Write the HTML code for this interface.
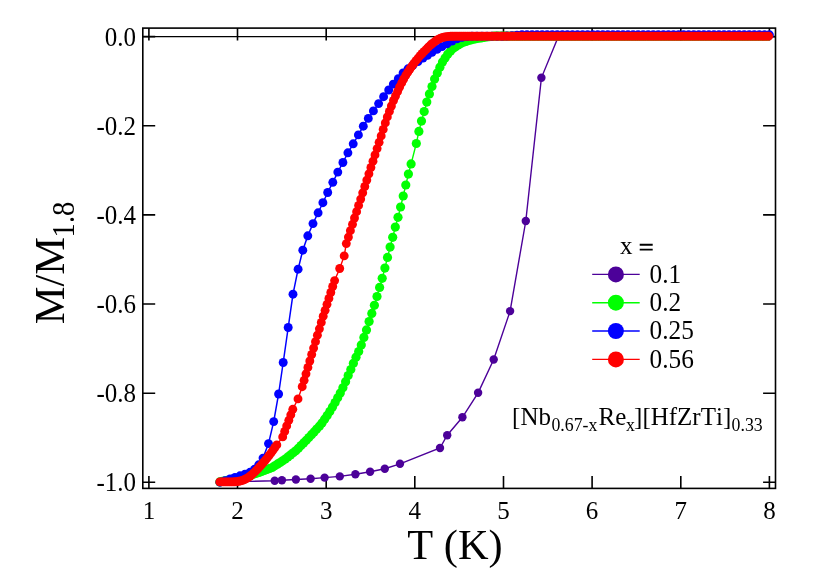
<!DOCTYPE html>
<html><head><meta charset="utf-8"><style>
html,body{margin:0;padding:0;background:#fff;}
svg{display:block;opacity:0.999;will-change:transform;}
text{font-family:"Liberation Serif",serif;font-size:25px;fill:#000;font-kerning:none;}
.big{font-size:42.4px;}
.bsub{font-size:29px;}
.sub{font-size:17.5px;}
</style></head><body>
<svg width="830" height="578" viewBox="0 0 830 578">
<rect width="830" height="578" fill="#fff"/>
<line x1="142.8" y1="36.6" x2="775.5" y2="36.6" stroke="#000" stroke-width="1.4"/>
<path d="M148.9 488.4V476.0M148.9 28.1V40.5M237.5 488.4V476.0M237.5 28.1V40.5M326.2 488.4V476.0M326.2 28.1V40.5M414.8 488.4V476.0M414.8 28.1V40.5M503.5 488.4V476.0M503.5 28.1V40.5M592.1 488.4V476.0M592.1 28.1V40.5M680.8 488.4V476.0M680.8 28.1V40.5M769.4 488.4V476.0M769.4 28.1V40.5M142.8 36.6H155.2M775.5 36.6H763.1M142.8 125.7H155.2M775.5 125.7H763.1M142.8 214.9H155.2M775.5 214.9H763.1M142.8 304.0H155.2M775.5 304.0H763.1M142.8 393.2H155.2M775.5 393.2H763.1M142.8 482.3H155.2M775.5 482.3H763.1" stroke="#000" stroke-width="1.6" fill="none"/>
<g>
<polyline fill="none" stroke="#4c0099" stroke-width="1.4" points="220.0,481.9 250.0,481.4 274.7,480.7 281.9,480.2 295.9,479.5 310.6,478.8 324.6,477.6 339.8,476.4 355.4,474.2 370.1,471.8 384.8,468.7 400.0,463.8 440.0,448.0 447.2,435.2 462.4,417.3 478.1,392.8 493.7,359.5 510.1,311.1 525.8,221.0 541.4,77.8 558.5,36.2 768.8,36.2"/>
<g fill="#4c0099"><circle cx="274.7" cy="480.7" r="4.2"/><circle cx="281.9" cy="480.2" r="4.2"/><circle cx="295.9" cy="479.5" r="4.2"/><circle cx="310.6" cy="478.8" r="4.2"/><circle cx="324.6" cy="477.6" r="4.2"/><circle cx="339.8" cy="476.4" r="4.2"/><circle cx="355.4" cy="474.2" r="4.2"/><circle cx="370.1" cy="471.8" r="4.2"/><circle cx="384.8" cy="468.7" r="4.2"/><circle cx="400.0" cy="463.8" r="4.2"/><circle cx="440.0" cy="448.0" r="4.2"/><circle cx="447.2" cy="435.2" r="4.2"/><circle cx="462.4" cy="417.3" r="4.2"/><circle cx="478.1" cy="392.8" r="4.2"/><circle cx="493.7" cy="359.5" r="4.2"/><circle cx="510.1" cy="311.1" r="4.2"/><circle cx="525.8" cy="221.0" r="4.2"/><circle cx="541.4" cy="77.8" r="4.2"/><circle cx="558.5" cy="36.2" r="4.2"/></g>
<polyline fill="none" stroke="#00ff00" stroke-width="1.4" points="219.8,481.9 222.4,481.4 225.0,480.8 227.7,480.3 230.3,479.8 232.9,479.2 235.5,478.7 238.1,478.1 240.8,477.5 243.4,476.8 246.0,476.2 248.6,475.6 251.2,474.9 253.9,474.1 256.5,473.3 259.1,472.5 261.7,471.5 264.3,470.5 267.0,469.5 269.6,468.5 272.2,467.5 274.8,465.8 277.4,464.2 280.1,462.5 282.7,460.8 285.3,459.0 287.9,456.9 290.5,454.9 293.2,452.8 295.8,450.8 298.4,448.3 301.0,445.6 303.6,442.9 306.3,440.3 308.9,437.5 311.5,434.7 314.1,431.9 316.7,429.1 319.4,426.2 322.0,422.9 324.6,419.2 327.2,415.4 329.8,411.4 332.5,407.1 335.1,402.5 337.7,397.8 340.3,393.1 342.9,387.8 345.6,381.7 348.2,375.6 350.8,369.5 353.4,363.3 356.0,357.2 358.7,351.5 361.3,344.9 363.9,337.4 366.5,329.9 369.1,321.6 371.8,313.4 374.4,305.3 377.0,296.5 379.6,287.4 382.2,278.3 384.9,268.1 387.5,257.4 390.1,247.1 392.7,237.3 395.3,227.1 398.0,217.3 400.6,207.0 403.2,196.0 405.8,185.0 408.4,174.1 411.1,163.9 416.3,143.5 418.9,131.4 421.5,121.1 424.2,111.6 426.8,102.1 429.4,93.9 432.0,86.5 434.6,79.1 437.3,72.9 439.9,67.2 442.5,62.1 445.1,58.0 447.7,54.3 450.4,51.2 453.0,48.6 455.6,46.8 458.2,45.0 460.8,43.6 463.5,42.2 466.1,41.4 468.7,40.5 471.3,39.8 473.9,39.2 476.6,38.6 479.2,38.2 481.8,37.8 484.4,37.3 487.0,37.0 489.7,36.6 492.3,36.4 494.9,36.2 497.5,36.2 500.1,36.2 502.8,36.2 505.4,36.2 508.0,36.2 510.6,36.2 513.2,36.2 515.9,36.2 518.5,36.2 521.1,36.2 523.7,36.2 526.3,36.2 529.0,36.2 531.6,36.2 534.2,36.2 536.8,36.2 539.4,36.2 542.1,36.2 544.7,36.2 547.3,36.2 549.9,36.2 552.5,36.2 555.2,36.2 557.8,36.2 560.4,36.2 563.0,36.2 565.6,36.2 568.3,36.2 570.9,36.2 573.5,36.2 576.1,36.2 578.7,36.2 581.4,36.2 584.0,36.2 586.6,36.2 589.2,36.2 591.8,36.2 594.5,36.2 597.1,36.2 599.7,36.2 602.3,36.2 604.9,36.2 607.6,36.2 610.2,36.2 612.8,36.2 615.4,36.2 618.0,36.2 620.7,36.2 623.3,36.2 625.9,36.2 628.5,36.2 631.1,36.2 633.8,36.2 636.4,36.2 639.0,36.2 641.6,36.2 644.2,36.2 646.9,36.2 649.5,36.2 652.1,36.2 654.7,36.2 657.3,36.2 660.0,36.2 662.6,36.2 665.2,36.2 667.8,36.2 670.4,36.2 673.1,36.2 675.7,36.2 678.3,36.2 680.9,36.2 683.5,36.2 686.2,36.2 688.8,36.2 691.4,36.2 694.0,36.2 696.6,36.2 699.3,36.2 701.9,36.2 704.5,36.2 707.1,36.2 709.7,36.2 712.4,36.2 715.0,36.2 717.6,36.2 720.2,36.2 722.8,36.2 725.5,36.2 728.1,36.2 730.7,36.2 733.3,36.2 735.9,36.2 738.6,36.2 741.2,36.2 743.8,36.2 746.4,36.2 749.0,36.2 751.7,36.2 754.3,36.2 756.9,36.2 759.5,36.2 762.1,36.2 764.8,36.2 767.4,36.2"/>
<g fill="#00ff00"><circle cx="219.8" cy="481.9" r="4.6"/><circle cx="222.4" cy="481.4" r="4.6"/><circle cx="225.0" cy="480.8" r="4.6"/><circle cx="227.7" cy="480.3" r="4.6"/><circle cx="230.3" cy="479.8" r="4.6"/><circle cx="232.9" cy="479.2" r="4.6"/><circle cx="235.5" cy="478.7" r="4.6"/><circle cx="238.1" cy="478.1" r="4.6"/><circle cx="240.8" cy="477.5" r="4.6"/><circle cx="243.4" cy="476.8" r="4.6"/><circle cx="246.0" cy="476.2" r="4.6"/><circle cx="248.6" cy="475.6" r="4.6"/><circle cx="251.2" cy="474.9" r="4.6"/><circle cx="253.9" cy="474.1" r="4.6"/><circle cx="256.5" cy="473.3" r="4.6"/><circle cx="259.1" cy="472.5" r="4.6"/><circle cx="261.7" cy="471.5" r="4.6"/><circle cx="264.3" cy="470.5" r="4.6"/><circle cx="267.0" cy="469.5" r="4.6"/><circle cx="269.6" cy="468.5" r="4.6"/><circle cx="272.2" cy="467.5" r="4.6"/><circle cx="274.8" cy="465.8" r="4.6"/><circle cx="277.4" cy="464.2" r="4.6"/><circle cx="280.1" cy="462.5" r="4.6"/><circle cx="282.7" cy="460.8" r="4.6"/><circle cx="285.3" cy="459.0" r="4.6"/><circle cx="287.9" cy="456.9" r="4.6"/><circle cx="290.5" cy="454.9" r="4.6"/><circle cx="293.2" cy="452.8" r="4.6"/><circle cx="295.8" cy="450.8" r="4.6"/><circle cx="298.4" cy="448.3" r="4.6"/><circle cx="301.0" cy="445.6" r="4.6"/><circle cx="303.6" cy="442.9" r="4.6"/><circle cx="306.3" cy="440.3" r="4.6"/><circle cx="308.9" cy="437.5" r="4.6"/><circle cx="311.5" cy="434.7" r="4.6"/><circle cx="314.1" cy="431.9" r="4.6"/><circle cx="316.7" cy="429.1" r="4.6"/><circle cx="319.4" cy="426.2" r="4.6"/><circle cx="322.0" cy="422.9" r="4.6"/><circle cx="324.6" cy="419.2" r="4.6"/><circle cx="327.2" cy="415.4" r="4.6"/><circle cx="329.8" cy="411.4" r="4.6"/><circle cx="332.5" cy="407.1" r="4.6"/><circle cx="335.1" cy="402.5" r="4.6"/><circle cx="337.7" cy="397.8" r="4.6"/><circle cx="340.3" cy="393.1" r="4.6"/><circle cx="342.9" cy="387.8" r="4.6"/><circle cx="345.6" cy="381.7" r="4.6"/><circle cx="348.2" cy="375.6" r="4.6"/><circle cx="350.8" cy="369.5" r="4.6"/><circle cx="353.4" cy="363.3" r="4.6"/><circle cx="356.0" cy="357.2" r="4.6"/><circle cx="358.7" cy="351.5" r="4.6"/><circle cx="361.3" cy="344.9" r="4.6"/><circle cx="363.9" cy="337.4" r="4.6"/><circle cx="366.5" cy="329.9" r="4.6"/><circle cx="369.1" cy="321.6" r="4.6"/><circle cx="371.8" cy="313.4" r="4.6"/><circle cx="374.4" cy="305.3" r="4.6"/><circle cx="377.0" cy="296.5" r="4.6"/><circle cx="379.6" cy="287.4" r="4.6"/><circle cx="382.2" cy="278.3" r="4.6"/><circle cx="384.9" cy="268.1" r="4.6"/><circle cx="387.5" cy="257.4" r="4.6"/><circle cx="390.1" cy="247.1" r="4.6"/><circle cx="392.7" cy="237.3" r="4.6"/><circle cx="395.3" cy="227.1" r="4.6"/><circle cx="398.0" cy="217.3" r="4.6"/><circle cx="400.6" cy="207.0" r="4.6"/><circle cx="403.2" cy="196.0" r="4.6"/><circle cx="405.8" cy="185.0" r="4.6"/><circle cx="408.4" cy="174.1" r="4.6"/><circle cx="411.1" cy="163.9" r="4.6"/><circle cx="416.3" cy="143.5" r="4.6"/><circle cx="418.9" cy="131.4" r="4.6"/><circle cx="421.5" cy="121.1" r="4.6"/><circle cx="424.2" cy="111.6" r="4.6"/><circle cx="426.8" cy="102.1" r="4.6"/><circle cx="429.4" cy="93.9" r="4.6"/><circle cx="432.0" cy="86.5" r="4.6"/><circle cx="434.6" cy="79.1" r="4.6"/><circle cx="437.3" cy="72.9" r="4.6"/><circle cx="439.9" cy="67.2" r="4.6"/><circle cx="442.5" cy="62.1" r="4.6"/><circle cx="445.1" cy="58.0" r="4.6"/><circle cx="447.7" cy="54.3" r="4.6"/><circle cx="450.4" cy="51.2" r="4.6"/><circle cx="453.0" cy="48.6" r="4.6"/><circle cx="455.6" cy="46.8" r="4.6"/><circle cx="458.2" cy="45.0" r="4.6"/><circle cx="460.8" cy="43.6" r="4.6"/><circle cx="463.5" cy="42.2" r="4.6"/><circle cx="466.1" cy="41.4" r="4.6"/><circle cx="468.7" cy="40.5" r="4.6"/><circle cx="471.3" cy="39.8" r="4.6"/><circle cx="473.9" cy="39.2" r="4.6"/><circle cx="476.6" cy="38.6" r="4.6"/><circle cx="479.2" cy="38.2" r="4.6"/><circle cx="481.8" cy="37.8" r="4.6"/><circle cx="484.4" cy="37.3" r="4.6"/><circle cx="487.0" cy="37.0" r="4.6"/><circle cx="489.7" cy="36.6" r="4.6"/><circle cx="492.3" cy="36.4" r="4.6"/><circle cx="494.9" cy="36.2" r="4.6"/><circle cx="497.5" cy="36.2" r="4.6"/><circle cx="500.1" cy="36.2" r="4.6"/><circle cx="502.8" cy="36.2" r="4.6"/><circle cx="505.4" cy="36.2" r="4.6"/><circle cx="508.0" cy="36.2" r="4.6"/><circle cx="510.6" cy="36.2" r="4.6"/><circle cx="513.2" cy="36.2" r="4.6"/><circle cx="515.9" cy="36.2" r="4.6"/><circle cx="518.5" cy="36.2" r="4.6"/><circle cx="521.1" cy="36.2" r="4.6"/><circle cx="523.7" cy="36.2" r="4.6"/><circle cx="526.3" cy="36.2" r="4.6"/><circle cx="529.0" cy="36.2" r="4.6"/><circle cx="531.6" cy="36.2" r="4.6"/><circle cx="534.2" cy="36.2" r="4.6"/><circle cx="536.8" cy="36.2" r="4.6"/><circle cx="539.4" cy="36.2" r="4.6"/><circle cx="542.1" cy="36.2" r="4.6"/><circle cx="544.7" cy="36.2" r="4.6"/><circle cx="547.3" cy="36.2" r="4.6"/><circle cx="549.9" cy="36.2" r="4.6"/><circle cx="552.5" cy="36.2" r="4.6"/><circle cx="555.2" cy="36.2" r="4.6"/><circle cx="557.8" cy="36.2" r="4.6"/><circle cx="560.4" cy="36.2" r="4.6"/><circle cx="563.0" cy="36.2" r="4.6"/><circle cx="565.6" cy="36.2" r="4.6"/><circle cx="568.3" cy="36.2" r="4.6"/><circle cx="570.9" cy="36.2" r="4.6"/><circle cx="573.5" cy="36.2" r="4.6"/><circle cx="576.1" cy="36.2" r="4.6"/><circle cx="578.7" cy="36.2" r="4.6"/><circle cx="581.4" cy="36.2" r="4.6"/><circle cx="584.0" cy="36.2" r="4.6"/><circle cx="586.6" cy="36.2" r="4.6"/><circle cx="589.2" cy="36.2" r="4.6"/><circle cx="591.8" cy="36.2" r="4.6"/><circle cx="594.5" cy="36.2" r="4.6"/><circle cx="597.1" cy="36.2" r="4.6"/><circle cx="599.7" cy="36.2" r="4.6"/><circle cx="602.3" cy="36.2" r="4.6"/><circle cx="604.9" cy="36.2" r="4.6"/><circle cx="607.6" cy="36.2" r="4.6"/><circle cx="610.2" cy="36.2" r="4.6"/><circle cx="612.8" cy="36.2" r="4.6"/><circle cx="615.4" cy="36.2" r="4.6"/><circle cx="618.0" cy="36.2" r="4.6"/><circle cx="620.7" cy="36.2" r="4.6"/><circle cx="623.3" cy="36.2" r="4.6"/><circle cx="625.9" cy="36.2" r="4.6"/><circle cx="628.5" cy="36.2" r="4.6"/><circle cx="631.1" cy="36.2" r="4.6"/><circle cx="633.8" cy="36.2" r="4.6"/><circle cx="636.4" cy="36.2" r="4.6"/><circle cx="639.0" cy="36.2" r="4.6"/><circle cx="641.6" cy="36.2" r="4.6"/><circle cx="644.2" cy="36.2" r="4.6"/><circle cx="646.9" cy="36.2" r="4.6"/><circle cx="649.5" cy="36.2" r="4.6"/><circle cx="652.1" cy="36.2" r="4.6"/><circle cx="654.7" cy="36.2" r="4.6"/><circle cx="657.3" cy="36.2" r="4.6"/><circle cx="660.0" cy="36.2" r="4.6"/><circle cx="662.6" cy="36.2" r="4.6"/><circle cx="665.2" cy="36.2" r="4.6"/><circle cx="667.8" cy="36.2" r="4.6"/><circle cx="670.4" cy="36.2" r="4.6"/><circle cx="673.1" cy="36.2" r="4.6"/><circle cx="675.7" cy="36.2" r="4.6"/><circle cx="678.3" cy="36.2" r="4.6"/><circle cx="680.9" cy="36.2" r="4.6"/><circle cx="683.5" cy="36.2" r="4.6"/><circle cx="686.2" cy="36.2" r="4.6"/><circle cx="688.8" cy="36.2" r="4.6"/><circle cx="691.4" cy="36.2" r="4.6"/><circle cx="694.0" cy="36.2" r="4.6"/><circle cx="696.6" cy="36.2" r="4.6"/><circle cx="699.3" cy="36.2" r="4.6"/><circle cx="701.9" cy="36.2" r="4.6"/><circle cx="704.5" cy="36.2" r="4.6"/><circle cx="707.1" cy="36.2" r="4.6"/><circle cx="709.7" cy="36.2" r="4.6"/><circle cx="712.4" cy="36.2" r="4.6"/><circle cx="715.0" cy="36.2" r="4.6"/><circle cx="717.6" cy="36.2" r="4.6"/><circle cx="720.2" cy="36.2" r="4.6"/><circle cx="722.8" cy="36.2" r="4.6"/><circle cx="725.5" cy="36.2" r="4.6"/><circle cx="728.1" cy="36.2" r="4.6"/><circle cx="730.7" cy="36.2" r="4.6"/><circle cx="733.3" cy="36.2" r="4.6"/><circle cx="735.9" cy="36.2" r="4.6"/><circle cx="738.6" cy="36.2" r="4.6"/><circle cx="741.2" cy="36.2" r="4.6"/><circle cx="743.8" cy="36.2" r="4.6"/><circle cx="746.4" cy="36.2" r="4.6"/><circle cx="749.0" cy="36.2" r="4.6"/><circle cx="751.7" cy="36.2" r="4.6"/><circle cx="754.3" cy="36.2" r="4.6"/><circle cx="756.9" cy="36.2" r="4.6"/><circle cx="759.5" cy="36.2" r="4.6"/><circle cx="762.1" cy="36.2" r="4.6"/><circle cx="764.8" cy="36.2" r="4.6"/><circle cx="767.4" cy="36.2" r="4.6"/></g>
<polyline fill="none" stroke="#0000ff" stroke-width="1.5" points="220.0,482.2 225.0,480.6 230.0,479.0 235.0,477.4 240.0,475.8 245.0,474.2 250.0,472.3 254.5,469.3 258.7,464.8 263.0,458.1 268.5,443.6 273.7,421.6 278.6,394.0 283.2,362.5 288.2,327.5 293.0,294.2 298.1,269.2 302.8,250.2 307.8,235.8 313.0,223.6 318.1,212.8 322.9,202.7 327.7,192.5 332.8,182.3 337.8,172.1 342.9,162.5 347.9,152.8 353.2,143.8 358.4,134.9 363.3,126.2 368.3,118.4 373.4,110.9 378.6,103.6 383.6,96.7 388.7,90.0 393.3,84.1 398.3,78.7 403.1,73.0 408.0,68.8 413.0,65.0 418.0,61.5 423.0,58.0 427.5,55.3 432.0,52.3 437.0,49.4 442.0,46.6 447.0,43.8 452.0,41.0 457.0,38.8 462.0,37.3 467.0,36.5 472.0,36.3 477.0,36.2 482.0,36.2 487.0,36.2 492.0,36.2 497.0,36.2 502.0,36.2 507.0,36.0 512.0,35.6 517.0,35.2 522.0,34.8 527.0,34.8 532.1,34.8 537.1,34.8 542.2,34.8 547.2,34.8 552.3,34.8 557.3,34.8 562.4,34.8 567.4,34.8 572.5,34.8 577.5,34.8 582.6,34.8 587.6,34.8 592.7,34.8 597.7,34.8 602.8,34.8 607.8,34.8 612.9,34.8 617.9,34.8 623.0,34.8 628.0,34.8 633.1,34.8 638.1,34.8 643.2,34.8 648.2,34.8 653.3,34.8 658.3,34.8 663.4,34.8 668.4,34.8 673.5,34.8 678.5,34.8 683.6,34.8 688.6,34.8 693.7,34.8 698.7,34.8 703.8,34.8 708.8,34.8 713.9,34.8 718.9,34.8 724.0,34.8 729.0,34.8 734.1,34.8 739.1,34.8 744.2,34.8 749.2,34.8 754.3,34.8 759.3,34.8 764.4,34.8 769.4,34.8"/>
<g fill="#0000ff"><circle cx="220.0" cy="482.2" r="4.45"/><circle cx="225.0" cy="480.6" r="4.45"/><circle cx="230.0" cy="479.0" r="4.45"/><circle cx="235.0" cy="477.4" r="4.45"/><circle cx="240.0" cy="475.8" r="4.45"/><circle cx="245.0" cy="474.2" r="4.45"/><circle cx="250.0" cy="472.3" r="4.45"/><circle cx="254.5" cy="469.3" r="4.45"/><circle cx="258.7" cy="464.8" r="4.45"/><circle cx="263.0" cy="458.1" r="4.45"/><circle cx="268.5" cy="443.6" r="4.45"/><circle cx="273.7" cy="421.6" r="4.45"/><circle cx="278.6" cy="394.0" r="4.45"/><circle cx="283.2" cy="362.5" r="4.45"/><circle cx="288.2" cy="327.5" r="4.45"/><circle cx="293.0" cy="294.2" r="4.45"/><circle cx="298.1" cy="269.2" r="4.45"/><circle cx="302.8" cy="250.2" r="4.45"/><circle cx="307.8" cy="235.8" r="4.45"/><circle cx="313.0" cy="223.6" r="4.45"/><circle cx="318.1" cy="212.8" r="4.45"/><circle cx="322.9" cy="202.7" r="4.45"/><circle cx="327.7" cy="192.5" r="4.45"/><circle cx="332.8" cy="182.3" r="4.45"/><circle cx="337.8" cy="172.1" r="4.45"/><circle cx="342.9" cy="162.5" r="4.45"/><circle cx="347.9" cy="152.8" r="4.45"/><circle cx="353.2" cy="143.8" r="4.45"/><circle cx="358.4" cy="134.9" r="4.45"/><circle cx="363.3" cy="126.2" r="4.45"/><circle cx="368.3" cy="118.4" r="4.45"/><circle cx="373.4" cy="110.9" r="4.45"/><circle cx="378.6" cy="103.6" r="4.45"/><circle cx="383.6" cy="96.7" r="4.45"/><circle cx="388.7" cy="90.0" r="4.45"/><circle cx="393.3" cy="84.1" r="4.45"/><circle cx="398.3" cy="78.7" r="4.45"/><circle cx="403.1" cy="73.0" r="4.45"/><circle cx="408.0" cy="68.8" r="4.45"/><circle cx="413.0" cy="65.0" r="4.45"/><circle cx="418.0" cy="61.5" r="4.45"/><circle cx="423.0" cy="58.0" r="4.45"/><circle cx="427.5" cy="55.3" r="4.45"/><circle cx="432.0" cy="52.3" r="4.45"/><circle cx="437.0" cy="49.4" r="4.45"/><circle cx="442.0" cy="46.6" r="4.45"/><circle cx="447.0" cy="43.8" r="4.45"/><circle cx="452.0" cy="41.0" r="4.45"/><circle cx="457.0" cy="38.8" r="4.45"/><circle cx="462.0" cy="37.3" r="4.45"/><circle cx="467.0" cy="36.5" r="4.45"/><circle cx="472.0" cy="36.3" r="4.45"/><circle cx="477.0" cy="36.2" r="4.45"/><circle cx="482.0" cy="36.2" r="4.45"/><circle cx="487.0" cy="36.2" r="4.45"/><circle cx="492.0" cy="36.2" r="4.45"/><circle cx="497.0" cy="36.2" r="4.45"/><circle cx="502.0" cy="36.2" r="4.45"/><circle cx="507.0" cy="36.0" r="4.45"/><circle cx="512.0" cy="35.6" r="4.45"/><circle cx="517.0" cy="35.2" r="4.45"/><circle cx="522.0" cy="34.8" r="4.45"/><circle cx="527.0" cy="34.8" r="4.45"/><circle cx="532.1" cy="34.8" r="4.45"/><circle cx="537.1" cy="34.8" r="4.45"/><circle cx="542.2" cy="34.8" r="4.45"/><circle cx="547.2" cy="34.8" r="4.45"/><circle cx="552.3" cy="34.8" r="4.45"/><circle cx="557.3" cy="34.8" r="4.45"/><circle cx="562.4" cy="34.8" r="4.45"/><circle cx="567.4" cy="34.8" r="4.45"/><circle cx="572.5" cy="34.8" r="4.45"/><circle cx="577.5" cy="34.8" r="4.45"/><circle cx="582.6" cy="34.8" r="4.45"/><circle cx="587.6" cy="34.8" r="4.45"/><circle cx="592.7" cy="34.8" r="4.45"/><circle cx="597.7" cy="34.8" r="4.45"/><circle cx="602.8" cy="34.8" r="4.45"/><circle cx="607.8" cy="34.8" r="4.45"/><circle cx="612.9" cy="34.8" r="4.45"/><circle cx="617.9" cy="34.8" r="4.45"/><circle cx="623.0" cy="34.8" r="4.45"/><circle cx="628.0" cy="34.8" r="4.45"/><circle cx="633.1" cy="34.8" r="4.45"/><circle cx="638.1" cy="34.8" r="4.45"/><circle cx="643.2" cy="34.8" r="4.45"/><circle cx="648.2" cy="34.8" r="4.45"/><circle cx="653.3" cy="34.8" r="4.45"/><circle cx="658.3" cy="34.8" r="4.45"/><circle cx="663.4" cy="34.8" r="4.45"/><circle cx="668.4" cy="34.8" r="4.45"/><circle cx="673.5" cy="34.8" r="4.45"/><circle cx="678.5" cy="34.8" r="4.45"/><circle cx="683.6" cy="34.8" r="4.45"/><circle cx="688.6" cy="34.8" r="4.45"/><circle cx="693.7" cy="34.8" r="4.45"/><circle cx="698.7" cy="34.8" r="4.45"/><circle cx="703.8" cy="34.8" r="4.45"/><circle cx="708.8" cy="34.8" r="4.45"/><circle cx="713.9" cy="34.8" r="4.45"/><circle cx="718.9" cy="34.8" r="4.45"/><circle cx="724.0" cy="34.8" r="4.45"/><circle cx="729.0" cy="34.8" r="4.45"/><circle cx="734.1" cy="34.8" r="4.45"/><circle cx="739.1" cy="34.8" r="4.45"/><circle cx="744.2" cy="34.8" r="4.45"/><circle cx="749.2" cy="34.8" r="4.45"/><circle cx="754.3" cy="34.8" r="4.45"/><circle cx="759.3" cy="34.8" r="4.45"/><circle cx="764.4" cy="34.8" r="4.45"/><circle cx="769.4" cy="34.8" r="4.45"/></g>
<polyline fill="none" stroke="#ff0000" stroke-width="1.4" points="219.8,481.9 221.7,481.9 223.6,481.9 225.5,481.9 227.4,481.9 229.3,481.9 231.2,481.9 233.1,481.9 235.0,481.8 236.9,481.6 238.8,481.3 240.7,480.9 242.6,480.4 244.5,479.5 246.4,478.6 248.3,477.4 250.2,476.0 252.1,474.4 254.0,472.6 255.9,470.8 257.8,468.8 259.7,466.7 261.6,464.6 263.5,462.4 265.4,460.1 267.3,457.8 269.2,455.3 271.1,452.8 273.0,450.2 274.9,447.5 276.8,444.9 282.7,436.9 284.7,431.4 286.7,425.9 288.8,420.3 290.8,414.8 292.8,409.3 298.0,398.9 302.2,386.7 304.1,380.3 306.0,373.8 307.9,367.4 309.8,361.0 311.7,354.5 313.6,348.1 315.5,341.7 317.4,335.2 319.4,328.8 321.3,322.4 323.2,316.2 325.1,310.3 327.0,304.3 328.9,298.4 330.8,292.5 332.7,286.5 334.6,280.6 339.7,268.5 344.2,255.9 346.3,243.6 348.4,237.1 350.4,230.7 352.5,224.3 354.5,218.0 356.6,211.7 358.6,205.4 360.7,199.1 362.7,192.8 364.8,186.5 366.8,180.1 368.9,173.8 370.9,167.5 373.0,161.2 375.0,154.9 377.1,148.6 379.1,142.3 381.2,135.9 383.2,129.4 385.3,122.9 387.3,116.9 389.4,111.4 391.4,106.0 393.5,100.5 395.5,96.0 397.6,91.5 399.6,87.0 401.7,82.9 403.7,79.0 405.8,75.3 407.8,72.2 409.9,69.0 411.9,66.1 414.0,63.3 416.0,60.6 418.1,58.1 420.1,55.7 422.2,53.5 424.2,51.4 426.3,49.3 428.3,47.1 430.4,45.2 432.4,43.5 434.5,41.9 436.5,40.3 438.6,39.1 440.6,38.2 442.7,37.4 444.7,37.0 446.8,36.6 448.8,36.4 450.9,36.3 452.9,36.3 455.0,36.2 457.0,36.2 459.1,36.2 461.1,36.2 463.2,36.2 465.2,36.2 467.3,36.2 469.3,36.2 471.4,36.2 473.4,36.2 475.5,36.2 477.5,36.2 479.6,36.2 481.6,36.2 483.7,36.2 485.7,36.2 487.8,36.2 489.8,36.2 491.9,36.2 493.9,36.2 496.0,36.2 498.0,36.2 500.1,36.2 502.1,36.2 504.2,36.2 506.2,36.2 508.3,36.2 510.3,36.2 512.4,36.2 514.4,36.2 516.5,36.2 518.5,36.2 520.6,36.2 522.6,36.2 524.7,36.2 526.7,36.2 528.8,36.2 530.8,36.2 532.9,36.2 534.9,36.2 537.0,36.2 539.0,36.2 541.1,36.2 543.1,36.2 545.2,36.2 547.2,36.2 549.3,36.2 551.3,36.2 553.4,36.2 555.4,36.2 557.5,36.2 559.5,36.2 561.6,36.2 563.6,36.2 565.7,36.2 567.7,36.2 569.8,36.2 571.8,36.2 573.9,36.2 575.9,36.2 578.0,36.2 580.0,36.2 582.1,36.2 584.1,36.2 586.2,36.2 588.2,36.2 590.3,36.2 592.3,36.2 594.4,36.2 596.4,36.2 598.5,36.2 600.5,36.2 602.6,36.2 604.6,36.2 606.7,36.2 608.7,36.2 610.8,36.2 612.8,36.2 614.9,36.2 616.9,36.2 619.0,36.2 621.0,36.2 623.1,36.2 625.1,36.2 627.2,36.2 629.2,36.2 631.3,36.2 633.3,36.2 635.4,36.2 637.4,36.2 639.5,36.2 641.5,36.2 643.6,36.2 645.6,36.2 647.7,36.2 649.7,36.2 651.8,36.2 653.8,36.2 655.9,36.2 657.9,36.2 660.0,36.2 662.0,36.2 664.1,36.2 666.1,36.2 668.2,36.2 670.2,36.2 672.3,36.2 674.3,36.2 676.4,36.2 678.4,36.2 680.5,36.2 682.5,36.2 684.6,36.2 686.6,36.2 688.7,36.2 690.7,36.2 692.8,36.2 694.8,36.2 696.9,36.2 698.9,36.2 701.0,36.2 703.0,36.2 705.1,36.2 707.1,36.2 709.2,36.2 711.2,36.2 713.3,36.2 715.3,36.2 717.4,36.2 719.4,36.2 721.5,36.2 723.5,36.2 725.6,36.2 727.6,36.2 729.7,36.2 731.7,36.2 733.8,36.2 735.8,36.2 737.9,36.2 739.9,36.2 742.0,36.2 744.0,36.2 746.1,36.2 748.1,36.2 750.2,36.2 752.2,36.2 754.3,36.2 756.3,36.2 758.4,36.2 760.4,36.2 762.5,36.2 764.5,36.2 766.6,36.2 768.6,36.2"/>
<g fill="#ff0000"><circle cx="219.8" cy="481.9" r="4.45"/><circle cx="221.7" cy="481.9" r="4.45"/><circle cx="223.6" cy="481.9" r="4.45"/><circle cx="225.5" cy="481.9" r="4.45"/><circle cx="227.4" cy="481.9" r="4.45"/><circle cx="229.3" cy="481.9" r="4.45"/><circle cx="231.2" cy="481.9" r="4.45"/><circle cx="233.1" cy="481.9" r="4.45"/><circle cx="235.0" cy="481.8" r="4.45"/><circle cx="236.9" cy="481.6" r="4.45"/><circle cx="238.8" cy="481.3" r="4.45"/><circle cx="240.7" cy="480.9" r="4.45"/><circle cx="242.6" cy="480.4" r="4.45"/><circle cx="244.5" cy="479.5" r="4.45"/><circle cx="246.4" cy="478.6" r="4.45"/><circle cx="248.3" cy="477.4" r="4.45"/><circle cx="250.2" cy="476.0" r="4.45"/><circle cx="252.1" cy="474.4" r="4.45"/><circle cx="254.0" cy="472.6" r="4.45"/><circle cx="255.9" cy="470.8" r="4.45"/><circle cx="257.8" cy="468.8" r="4.45"/><circle cx="259.7" cy="466.7" r="4.45"/><circle cx="261.6" cy="464.6" r="4.45"/><circle cx="263.5" cy="462.4" r="4.45"/><circle cx="265.4" cy="460.1" r="4.45"/><circle cx="267.3" cy="457.8" r="4.45"/><circle cx="269.2" cy="455.3" r="4.45"/><circle cx="271.1" cy="452.8" r="4.45"/><circle cx="273.0" cy="450.2" r="4.45"/><circle cx="274.9" cy="447.5" r="4.45"/><circle cx="276.8" cy="444.9" r="4.45"/><circle cx="282.7" cy="436.9" r="4.45"/><circle cx="284.7" cy="431.4" r="4.45"/><circle cx="286.7" cy="425.9" r="4.45"/><circle cx="288.8" cy="420.3" r="4.45"/><circle cx="290.8" cy="414.8" r="4.45"/><circle cx="292.8" cy="409.3" r="4.45"/><circle cx="298.0" cy="398.9" r="4.45"/><circle cx="302.2" cy="386.7" r="4.45"/><circle cx="304.1" cy="380.3" r="4.45"/><circle cx="306.0" cy="373.8" r="4.45"/><circle cx="307.9" cy="367.4" r="4.45"/><circle cx="309.8" cy="361.0" r="4.45"/><circle cx="311.7" cy="354.5" r="4.45"/><circle cx="313.6" cy="348.1" r="4.45"/><circle cx="315.5" cy="341.7" r="4.45"/><circle cx="317.4" cy="335.2" r="4.45"/><circle cx="319.4" cy="328.8" r="4.45"/><circle cx="321.3" cy="322.4" r="4.45"/><circle cx="323.2" cy="316.2" r="4.45"/><circle cx="325.1" cy="310.3" r="4.45"/><circle cx="327.0" cy="304.3" r="4.45"/><circle cx="328.9" cy="298.4" r="4.45"/><circle cx="330.8" cy="292.5" r="4.45"/><circle cx="332.7" cy="286.5" r="4.45"/><circle cx="334.6" cy="280.6" r="4.45"/><circle cx="339.7" cy="268.5" r="4.45"/><circle cx="344.2" cy="255.9" r="4.45"/><circle cx="346.3" cy="243.6" r="4.45"/><circle cx="348.4" cy="237.1" r="4.45"/><circle cx="350.4" cy="230.7" r="4.45"/><circle cx="352.5" cy="224.3" r="4.45"/><circle cx="354.5" cy="218.0" r="4.45"/><circle cx="356.6" cy="211.7" r="4.45"/><circle cx="358.6" cy="205.4" r="4.45"/><circle cx="360.7" cy="199.1" r="4.45"/><circle cx="362.7" cy="192.8" r="4.45"/><circle cx="364.8" cy="186.5" r="4.45"/><circle cx="366.8" cy="180.1" r="4.45"/><circle cx="368.9" cy="173.8" r="4.45"/><circle cx="370.9" cy="167.5" r="4.45"/><circle cx="373.0" cy="161.2" r="4.45"/><circle cx="375.0" cy="154.9" r="4.45"/><circle cx="377.1" cy="148.6" r="4.45"/><circle cx="379.1" cy="142.3" r="4.45"/><circle cx="381.2" cy="135.9" r="4.45"/><circle cx="383.2" cy="129.4" r="4.45"/><circle cx="385.3" cy="122.9" r="4.45"/><circle cx="387.3" cy="116.9" r="4.45"/><circle cx="389.4" cy="111.4" r="4.45"/><circle cx="391.4" cy="106.0" r="4.45"/><circle cx="393.5" cy="100.5" r="4.45"/><circle cx="395.5" cy="96.0" r="4.45"/><circle cx="397.6" cy="91.5" r="4.45"/><circle cx="399.6" cy="87.0" r="4.45"/><circle cx="401.7" cy="82.9" r="4.45"/><circle cx="403.7" cy="79.0" r="4.45"/><circle cx="405.8" cy="75.3" r="4.45"/><circle cx="407.8" cy="72.2" r="4.45"/><circle cx="409.9" cy="69.0" r="4.45"/><circle cx="411.9" cy="66.1" r="4.45"/><circle cx="414.0" cy="63.3" r="4.45"/><circle cx="416.0" cy="60.6" r="4.45"/><circle cx="418.1" cy="58.1" r="4.45"/><circle cx="420.1" cy="55.7" r="4.45"/><circle cx="422.2" cy="53.5" r="4.45"/><circle cx="424.2" cy="51.4" r="4.45"/><circle cx="426.3" cy="49.3" r="4.45"/><circle cx="428.3" cy="47.1" r="4.45"/><circle cx="430.4" cy="45.2" r="4.45"/><circle cx="432.4" cy="43.5" r="4.45"/><circle cx="434.5" cy="41.9" r="4.45"/><circle cx="436.5" cy="40.3" r="4.45"/><circle cx="438.6" cy="39.1" r="4.45"/><circle cx="440.6" cy="38.2" r="4.45"/><circle cx="442.7" cy="37.4" r="4.45"/><circle cx="444.7" cy="37.0" r="4.45"/><circle cx="446.8" cy="36.6" r="4.45"/><circle cx="448.8" cy="36.4" r="4.45"/><circle cx="450.9" cy="36.3" r="4.45"/><circle cx="452.9" cy="36.3" r="4.45"/><circle cx="455.0" cy="36.2" r="4.45"/><circle cx="457.0" cy="36.2" r="4.45"/><circle cx="459.1" cy="36.2" r="4.45"/><circle cx="461.1" cy="36.2" r="4.45"/><circle cx="463.2" cy="36.2" r="4.45"/><circle cx="465.2" cy="36.2" r="4.45"/><circle cx="467.3" cy="36.2" r="4.45"/><circle cx="469.3" cy="36.2" r="4.45"/><circle cx="471.4" cy="36.2" r="4.45"/><circle cx="473.4" cy="36.2" r="4.45"/><circle cx="475.5" cy="36.2" r="4.45"/><circle cx="477.5" cy="36.2" r="4.45"/><circle cx="479.6" cy="36.2" r="4.45"/><circle cx="481.6" cy="36.2" r="4.45"/><circle cx="483.7" cy="36.2" r="4.45"/><circle cx="485.7" cy="36.2" r="4.45"/><circle cx="487.8" cy="36.2" r="4.45"/><circle cx="489.8" cy="36.2" r="4.45"/><circle cx="491.9" cy="36.2" r="4.45"/><circle cx="493.9" cy="36.2" r="4.45"/><circle cx="496.0" cy="36.2" r="4.45"/><circle cx="498.0" cy="36.2" r="4.45"/><circle cx="500.1" cy="36.2" r="4.45"/><circle cx="502.1" cy="36.2" r="4.45"/><circle cx="504.2" cy="36.2" r="4.45"/><circle cx="506.2" cy="36.2" r="4.45"/><circle cx="508.3" cy="36.2" r="4.45"/><circle cx="510.3" cy="36.2" r="4.45"/><circle cx="512.4" cy="36.2" r="4.45"/><circle cx="514.4" cy="36.2" r="4.45"/><circle cx="516.5" cy="36.2" r="4.45"/><circle cx="518.5" cy="36.2" r="4.45"/><circle cx="520.6" cy="36.2" r="4.45"/><circle cx="522.6" cy="36.2" r="4.45"/><circle cx="524.7" cy="36.2" r="4.45"/><circle cx="526.7" cy="36.2" r="4.45"/><circle cx="528.8" cy="36.2" r="4.45"/><circle cx="530.8" cy="36.2" r="4.45"/><circle cx="532.9" cy="36.2" r="4.45"/><circle cx="534.9" cy="36.2" r="4.45"/><circle cx="537.0" cy="36.2" r="4.45"/><circle cx="539.0" cy="36.2" r="4.45"/><circle cx="541.1" cy="36.2" r="4.45"/><circle cx="543.1" cy="36.2" r="4.45"/><circle cx="545.2" cy="36.2" r="4.45"/><circle cx="547.2" cy="36.2" r="4.45"/><circle cx="549.3" cy="36.2" r="4.45"/><circle cx="551.3" cy="36.2" r="4.45"/><circle cx="553.4" cy="36.2" r="4.45"/><circle cx="555.4" cy="36.2" r="4.45"/><circle cx="557.5" cy="36.2" r="4.45"/><circle cx="559.5" cy="36.2" r="4.45"/><circle cx="561.6" cy="36.2" r="4.45"/><circle cx="563.6" cy="36.2" r="4.45"/><circle cx="565.7" cy="36.2" r="4.45"/><circle cx="567.7" cy="36.2" r="4.45"/><circle cx="569.8" cy="36.2" r="4.45"/><circle cx="571.8" cy="36.2" r="4.45"/><circle cx="573.9" cy="36.2" r="4.45"/><circle cx="575.9" cy="36.2" r="4.45"/><circle cx="578.0" cy="36.2" r="4.45"/><circle cx="580.0" cy="36.2" r="4.45"/><circle cx="582.1" cy="36.2" r="4.45"/><circle cx="584.1" cy="36.2" r="4.45"/><circle cx="586.2" cy="36.2" r="4.45"/><circle cx="588.2" cy="36.2" r="4.45"/><circle cx="590.3" cy="36.2" r="4.45"/><circle cx="592.3" cy="36.2" r="4.45"/><circle cx="594.4" cy="36.2" r="4.45"/><circle cx="596.4" cy="36.2" r="4.45"/><circle cx="598.5" cy="36.2" r="4.45"/><circle cx="600.5" cy="36.2" r="4.45"/><circle cx="602.6" cy="36.2" r="4.45"/><circle cx="604.6" cy="36.2" r="4.45"/><circle cx="606.7" cy="36.2" r="4.45"/><circle cx="608.7" cy="36.2" r="4.45"/><circle cx="610.8" cy="36.2" r="4.45"/><circle cx="612.8" cy="36.2" r="4.45"/><circle cx="614.9" cy="36.2" r="4.45"/><circle cx="616.9" cy="36.2" r="4.45"/><circle cx="619.0" cy="36.2" r="4.45"/><circle cx="621.0" cy="36.2" r="4.45"/><circle cx="623.1" cy="36.2" r="4.45"/><circle cx="625.1" cy="36.2" r="4.45"/><circle cx="627.2" cy="36.2" r="4.45"/><circle cx="629.2" cy="36.2" r="4.45"/><circle cx="631.3" cy="36.2" r="4.45"/><circle cx="633.3" cy="36.2" r="4.45"/><circle cx="635.4" cy="36.2" r="4.45"/><circle cx="637.4" cy="36.2" r="4.45"/><circle cx="639.5" cy="36.2" r="4.45"/><circle cx="641.5" cy="36.2" r="4.45"/><circle cx="643.6" cy="36.2" r="4.45"/><circle cx="645.6" cy="36.2" r="4.45"/><circle cx="647.7" cy="36.2" r="4.45"/><circle cx="649.7" cy="36.2" r="4.45"/><circle cx="651.8" cy="36.2" r="4.45"/><circle cx="653.8" cy="36.2" r="4.45"/><circle cx="655.9" cy="36.2" r="4.45"/><circle cx="657.9" cy="36.2" r="4.45"/><circle cx="660.0" cy="36.2" r="4.45"/><circle cx="662.0" cy="36.2" r="4.45"/><circle cx="664.1" cy="36.2" r="4.45"/><circle cx="666.1" cy="36.2" r="4.45"/><circle cx="668.2" cy="36.2" r="4.45"/><circle cx="670.2" cy="36.2" r="4.45"/><circle cx="672.3" cy="36.2" r="4.45"/><circle cx="674.3" cy="36.2" r="4.45"/><circle cx="676.4" cy="36.2" r="4.45"/><circle cx="678.4" cy="36.2" r="4.45"/><circle cx="680.5" cy="36.2" r="4.45"/><circle cx="682.5" cy="36.2" r="4.45"/><circle cx="684.6" cy="36.2" r="4.45"/><circle cx="686.6" cy="36.2" r="4.45"/><circle cx="688.7" cy="36.2" r="4.45"/><circle cx="690.7" cy="36.2" r="4.45"/><circle cx="692.8" cy="36.2" r="4.45"/><circle cx="694.8" cy="36.2" r="4.45"/><circle cx="696.9" cy="36.2" r="4.45"/><circle cx="698.9" cy="36.2" r="4.45"/><circle cx="701.0" cy="36.2" r="4.45"/><circle cx="703.0" cy="36.2" r="4.45"/><circle cx="705.1" cy="36.2" r="4.45"/><circle cx="707.1" cy="36.2" r="4.45"/><circle cx="709.2" cy="36.2" r="4.45"/><circle cx="711.2" cy="36.2" r="4.45"/><circle cx="713.3" cy="36.2" r="4.45"/><circle cx="715.3" cy="36.2" r="4.45"/><circle cx="717.4" cy="36.2" r="4.45"/><circle cx="719.4" cy="36.2" r="4.45"/><circle cx="721.5" cy="36.2" r="4.45"/><circle cx="723.5" cy="36.2" r="4.45"/><circle cx="725.6" cy="36.2" r="4.45"/><circle cx="727.6" cy="36.2" r="4.45"/><circle cx="729.7" cy="36.2" r="4.45"/><circle cx="731.7" cy="36.2" r="4.45"/><circle cx="733.8" cy="36.2" r="4.45"/><circle cx="735.8" cy="36.2" r="4.45"/><circle cx="737.9" cy="36.2" r="4.45"/><circle cx="739.9" cy="36.2" r="4.45"/><circle cx="742.0" cy="36.2" r="4.45"/><circle cx="744.0" cy="36.2" r="4.45"/><circle cx="746.1" cy="36.2" r="4.45"/><circle cx="748.1" cy="36.2" r="4.45"/><circle cx="750.2" cy="36.2" r="4.45"/><circle cx="752.2" cy="36.2" r="4.45"/><circle cx="754.3" cy="36.2" r="4.45"/><circle cx="756.3" cy="36.2" r="4.45"/><circle cx="758.4" cy="36.2" r="4.45"/><circle cx="760.4" cy="36.2" r="4.45"/><circle cx="762.5" cy="36.2" r="4.45"/><circle cx="764.5" cy="36.2" r="4.45"/><circle cx="766.6" cy="36.2" r="4.45"/><circle cx="768.6" cy="36.2" r="4.45"/></g>
</g>
<rect x="142.8" y="28.1" width="632.7" height="460.29999999999995" fill="none" stroke="#000" stroke-width="1.6"/>
<text transform="translate(148.9,518.6) scale(1,1.04)" text-anchor="middle">1</text>
<text transform="translate(237.5,518.6) scale(1,1.04)" text-anchor="middle">2</text>
<text transform="translate(326.2,518.6) scale(1,1.04)" text-anchor="middle">3</text>
<text transform="translate(414.8,518.6) scale(1,1.04)" text-anchor="middle">4</text>
<text transform="translate(503.5,518.6) scale(1,1.04)" text-anchor="middle">5</text>
<text transform="translate(592.1,518.6) scale(1,1.04)" text-anchor="middle">6</text>
<text transform="translate(680.8,518.6) scale(1,1.04)" text-anchor="middle">7</text>
<text transform="translate(769.4,518.6) scale(1,1.04)" text-anchor="middle">8</text>
<text transform="translate(136.1,45.5) scale(1,1.05)" text-anchor="end">0.0</text>
<text transform="translate(136.1,134.6) scale(1,1.05)" text-anchor="end">-0.2</text>
<text transform="translate(136.1,223.8) scale(1,1.05)" text-anchor="end">-0.4</text>
<text transform="translate(136.1,312.9) scale(1,1.05)" text-anchor="end">-0.6</text>
<text transform="translate(136.1,402.1) scale(1,1.05)" text-anchor="end">-0.8</text>
<text transform="translate(136.1,491.2) scale(1,1.05)" text-anchor="end">-1.0</text>
<line x1="592.2" y1="274.4" x2="639.7" y2="274.4" stroke="#4c0099" stroke-width="1.4"/>
<circle cx="615.9" cy="274.4" r="8" fill="#4c0099"/>
<text transform="translate(649.6,282.8) scale(1,1.05)" style="font-size:25.3px">0.1</text>
<line x1="592.2" y1="302.7" x2="639.7" y2="302.7" stroke="#00ff00" stroke-width="1.4"/>
<circle cx="615.9" cy="302.7" r="8" fill="#00ff00"/>
<text transform="translate(649.6,311.1) scale(1,1.05)" style="font-size:25.3px">0.2</text>
<line x1="592.2" y1="331.0" x2="639.7" y2="331.0" stroke="#0000ff" stroke-width="1.4"/>
<circle cx="615.9" cy="331.0" r="8" fill="#0000ff"/>
<text transform="translate(649.6,339.4) scale(1,1.05)" style="font-size:25.3px">0.25</text>
<line x1="592.2" y1="359.4" x2="639.7" y2="359.4" stroke="#ff0000" stroke-width="1.4"/>
<circle cx="615.9" cy="359.4" r="8" fill="#ff0000"/>
<text transform="translate(649.6,367.8) scale(1,1.05)" style="font-size:25.3px">0.56</text>
<text x="620" y="254.1">x</text>
<path d="M639.7 244.8H652.7M639.7 249.6H652.7" stroke="#000" stroke-width="1.9" fill="none"/>
<text class="big" x="455" y="559" text-anchor="middle">T (K)</text>
<g transform="translate(64.2,324.2) rotate(-90)"><text transform="translate(0.00,0) scale(1,1.0)" style="font-size:42.4px">M/M</text><text transform="translate(87.18,0) scale(1,1.0)" style="font-size:42.4px"> </text></g>
<g transform="translate(64.2,324.2) rotate(-90)"><text transform="translate(86.78,9.9) scale(1,1.07)" style="font-size:28.6px">1.8</text></g>
<text transform="translate(512.10,424.70) scale(1,1.01)" style="font-size:25.0px">[Nb</text><text transform="translate(551.40,431.40) scale(1,1.05)" style="font-size:17.8px">0.67-x</text><text transform="translate(598.50,424.70) scale(1,1.01)" style="font-size:25.0px">Re</text><text transform="translate(626.00,431.40) scale(1,1.05)" style="font-size:17.8px">x</text><text transform="translate(634.10,424.70) scale(1,1.01)" style="font-size:25.0px">][HfZrTi]</text><text transform="translate(731.60,431.40) scale(1,1.05)" style="font-size:17.8px">0.33</text>
</svg>
</body></html>
